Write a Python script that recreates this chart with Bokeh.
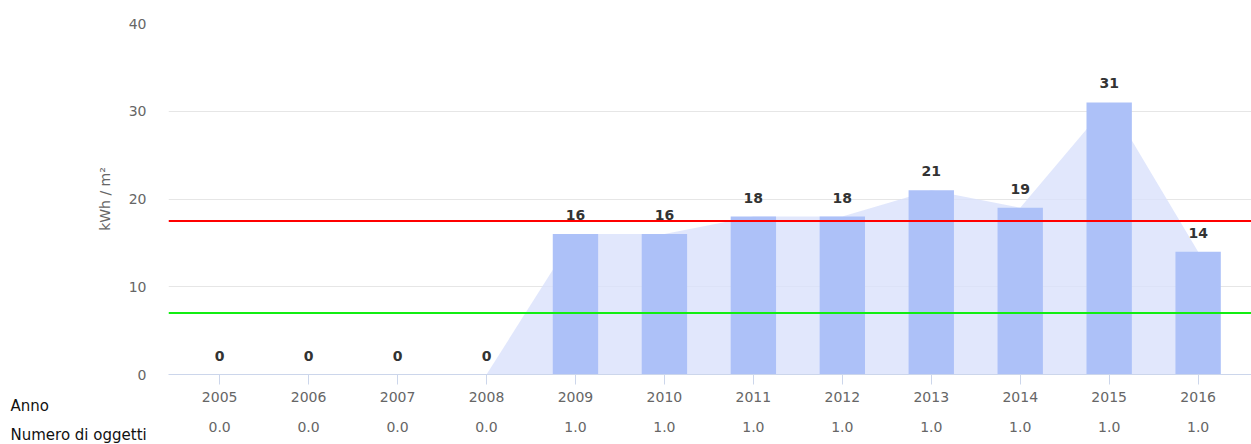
from bokeh.plotting import figure
from bokeh.models import Range1d, Span, LinearAxis, Label, FixedTicker, CustomJSTickFormatter
from bokeh.core.properties import value
from bokeh.embed import file_html
from bokeh.resources import INLINE

years = ["2005", "2006", "2007", "2008", "2009", "2010", "2011", "2012", "2013", "2014", "2015", "2016"]
values = [0, 0, 0, 0, 16, 16, 18, 18, 21, 19, 31, 14]
counts = ["0.0", "0.0", "0.0", "0.0", "1.0", "1.0", "1.0", "1.0", "1.0", "1.0", "1.0", "1.0"]
red_level = 17.5
green_level = 7.0
y_ticks = [0, 10, 20, 30, 40]
row_labels = ["Anno", "Numero di oggetti"]

pos = list(range(len(years)))
FONT = "DejaVu Sans"

p = figure(x_range=Range1d(-0.575, 11.6), y_range=Range1d(0, 40),
           width=1251, height=444, output_backend="svg", toolbar_location=None,
           min_border_left=168, min_border_right=0, min_border_top=23, min_border_bottom=70)

p.outline_line_color = None
p.xgrid.grid_line_color = None
p.ygrid.grid_line_color = "#e6e6e6"
p.ygrid.ticker = FixedTicker(ticks=y_ticks)

p.varea(x=pos, y1=0, y2=values, fill_color="#d9e1fb", fill_alpha=0.8)
p.vbar(x=pos, top=values, width=0.51, fill_color="#adc1f8", line_color=None)

p.add_layout(Span(location=red_level, dimension="width", line_color="#ff0000", line_width=2))
p.add_layout(Span(location=green_level, dimension="width", line_color="#11ee11", line_width=2))

p.text(x=pos, y=values, text=[str(v) for v in values], text_align="center",
       text_baseline="bottom", y_offset=-14, text_font=value(FONT),
       text_font_size="14px", text_font_style="bold", text_color="#333333")

# y axis
ya = p.yaxis[0]
ya.ticker = FixedTicker(ticks=y_ticks)
ya.axis_line_color = None
ya.major_tick_line_color = None
ya.minor_tick_line_color = None
ya.major_tick_out = 0
ya.major_label_standoff = 22
ya.major_label_text_font = FONT
ya.major_label_text_font_size = "14px"
ya.major_label_text_color = "#666666"
ya.axis_label = "kWh / m²"
ya.axis_label_text_font = FONT
ya.axis_label_text_font_size = "14px"
ya.axis_label_text_font_style = "normal"
ya.axis_label_text_color = "#666666"
ya.axis_label_standoff = 13

# x axis (years)
xa = p.xaxis[0]
xa.ticker = FixedTicker(ticks=pos)
xa.formatter = CustomJSTickFormatter(args=dict(labels=years),
                                     code="return labels[Math.round(tick)] ?? '';")
xa.axis_line_color = "#ccd6eb"
xa.major_tick_line_color = "#ccd6eb"
xa.minor_tick_line_color = None
xa.major_tick_out = 10
xa.major_tick_in = 0
xa.minor_tick_out = 0
xa.minor_tick_in = 0
xa.major_label_standoff = 7
xa.major_label_text_font = FONT
xa.major_label_text_font_size = "14px"
xa.major_label_text_color = "#666666"

# row label placed in the panel between the two label rows
anno_label = Label(x=10, y=405, x_units="canvas", y_units="canvas", text=row_labels[0],
                   text_font=FONT, text_font_size="15px", text_color="#111111",
                   text_baseline="middle")
p.add_layout(anno_label, "below")

# second row (counts)
xa2 = LinearAxis(ticker=FixedTicker(ticks=pos),
                 formatter=CustomJSTickFormatter(args=dict(labels=counts),
                                                 code="return labels[Math.round(tick)] ?? '';"),
                 axis_line_color=None, major_tick_line_color=None, minor_tick_line_color=None,
                 major_tick_out=0, major_tick_in=0, minor_tick_out=0, minor_tick_in=0,
                 major_label_standoff=-1,
                 major_label_text_font=FONT, major_label_text_font_size="14px",
                 major_label_text_color="#666666")
p.add_layout(xa2, "below")

num_label = Label(x=10, y=434, x_units="canvas", y_units="canvas", text=row_labels[1],
                  text_font=FONT, text_font_size="15px", text_color="#111111",
                  text_baseline="middle")
p.add_layout(num_label, "above")

open("out.html", "w").write(file_html(p, INLINE))
